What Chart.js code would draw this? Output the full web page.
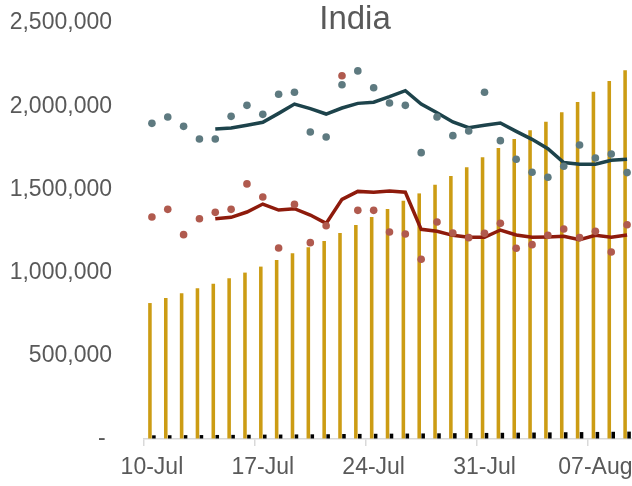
<!DOCTYPE html>
<html>
<head>
<meta charset="utf-8">
<script src="https://cdn.jsdelivr.net/npm/chart.js@4"></script>
<style>
body { margin: 0; overflow: hidden; background: #fff; }
#wrap { width: 640px; height: 486px; }
</style>
</head>
<body>
<div id="wrap"><canvas id="indiaChart" width="640" height="486"></canvas></div>
<script>
const titleText = 'India';

const days = ['10-Jul','11-Jul','12-Jul','13-Jul','14-Jul','15-Jul','16-Jul','17-Jul','18-Jul','19-Jul',
    '20-Jul','21-Jul','22-Jul','23-Jul','24-Jul','25-Jul','26-Jul','27-Jul','28-Jul','29-Jul',
    '30-Jul','31-Jul','01-Aug','02-Aug','03-Aug','04-Aug','05-Aug','06-Aug','07-Aug','08-Aug','09-Aug'];

// cumulative cases (yellow bars)
const totalCases = [817000, 847000, 876000, 906000, 933000, 966000, 1000000, 1036000, 1076000, 1116000,
    1152000, 1190000, 1238000, 1286000, 1334000, 1382000, 1432000, 1476000, 1528000, 1580000,
    1633000, 1693000, 1749000, 1803000, 1855000, 1907000, 1963000, 2025000, 2087000, 2152000, 2216000];

// cumulative deaths (black bars)
const totalDeaths = [22100, 22700, 23200, 23700, 24300, 24900, 25600, 26300, 26800, 27500,
    28100, 28700, 29900, 30600, 31400, 32100, 32800, 33400, 34200, 35000,
    35700, 36500, 37400, 38100, 38900, 39800, 40700, 41600, 42500, 43400, 44400];

// grey dots and their average line
const greyDots = [1897000, 1935000, 1879000, 1803000, 1803000, 1939000, 2005000, 1951000, 2072000, 2084000,
    1845000, 1815000, 2129000, 2212000, 2111000, 2019000, 2005000, 1721000, 1935000, 1823000,
    1851000, 2084000, 1793000, 1681000, 1603000, 1573000, 1639000, 1767000, 1689000, 1713000, 1601000];
const greyAvg = [null, null, null, null, 1863000, 1869000, 1885000, 1903000, 1957000, 2013000,
    1985000, 1953000, 1989000, 2017000, 2024000, 2057000, 2093000, 2013000, 1961000, 1905000,
    1871000, 1885000, 1899000, 1849000, 1801000, 1745000, 1661000, 1651000, 1651000, 1675000, 1681000];

// red dots and their average line
const redDots = [1334000, 1380000, 1228000, 1324000, 1362000, 1380000, 1533000, 1454000, 1148000, 1410000,
    1180000, 1282000, 2183000, 1374000, 1374000, 1244000, 1232000, 1080000, 1304000, 1238000,
    1210000, 1236000, 1296000, 1146000, 1168000, 1224000, 1262000, 1210000, 1248000, 1124000, 1288000];
const redAvg = [null, null, null, null, 1324000, 1332000, 1364000, 1412000, 1376000, 1384000,
    1346000, 1296000, 1440000, 1488000, 1483000, 1490000, 1483000, 1260000, 1248000, 1224000,
    1212000, 1212000, 1256000, 1226000, 1212000, 1214000, 1218000, 1198000, 1224000, 1212000, 1226000];

Chart.defaults.font.family = '"Liberation Sans", Arial, sans-serif';
Chart.defaults.color = '#595959';

const titlePlugin = {
    id: 'indiaTitle',
    afterDraw(chart) {
        const c = chart.ctx;
        c.save();
        c.font = '33px "Liberation Sans", Arial, sans-serif';
        c.fillStyle = '#595959';
        c.textAlign = 'center';
        c.textBaseline = 'alphabetic';
        c.fillText(titleText, 355, 29);
        c.restore();
    }
};

const ctx = document.getElementById('indiaChart').getContext('2d');
const chart = new Chart(ctx, {
    type: 'bar',
    data: {
        labels: days,
        datasets: [
            {
                type: 'line',
                label: 'Grey dots',
                data: greyDots,
                showLine: false,
                pointRadius: 3.8,
                pointBackgroundColor: '#5E7A80',
                pointBorderWidth: 0,
                order: 0
            },
            {
                type: 'line',
                label: 'Red dots',
                data: redDots,
                showLine: false,
                pointRadius: 3.8,
                pointBackgroundColor: '#B05A4E',
                pointBorderWidth: 0,
                order: 0
            },
            {
                type: 'line',
                label: 'Grey average',
                data: greyAvg,
                borderColor: '#1D434B',
                borderWidth: 3.5,
                pointRadius: 0,
                order: 1
            },
            {
                type: 'line',
                label: 'Red average',
                data: redAvg,
                borderColor: '#8E1B0C',
                borderWidth: 3.5,
                pointRadius: 0,
                order: 1
            },
            {
                label: 'Cases',
                data: totalCases,
                backgroundColor: '#CC9C14',
                categoryPercentage: 0.5,
                barPercentage: 0.9,
                order: 2
            },
            {
                label: 'Deaths',
                data: totalDeaths,
                backgroundColor: '#000000',
                categoryPercentage: 0.5,
                barPercentage: 0.9,
                order: 2
            }
        ]
    },
    options: {
        responsive: false,
        animation: false,
        layout: { padding: { top: 23, right: 5, left: 0, bottom: 0 } },
        plugins: {
            legend: { display: false },
            tooltip: { enabled: false }
        },
        scales: {
            x: {
                offset: true,
                grid: {
                    offset: true,
                    drawOnChartArea: false,
                    tickLength: 7,
                    lineWidth: 1.5,
                    color: c => (c.index % 7 === 0 ? '#D9D9D9' : 'rgba(0,0,0,0)')
                },
                border: { display: true, color: '#D9D9D9', width: 1.5 },
                ticks: {
                    autoSkip: false,
                    maxRotation: 0,
                    padding: 8,
                    font: { size: 23 },
                    callback: function (value, index) {
                        return index % 7 === 0 ? this.getLabelForValue(value) : '';
                    }
                },
                afterFit: scale => { scale.height = 47; }
            },
            y: {
                min: 0,
                max: 2500000,
                grid: {
                    drawOnChartArea: false,
                    tickLength: 30,
                    color: 'rgba(0,0,0,0)'
                },
                border: { display: false },
                ticks: {
                    stepSize: 500000,
                    padding: 2,
                    font: { size: 23 },
                    callback: v => (v === 0 ? '- ' : v.toLocaleString('en-US'))
                },
                afterFit: scale => { scale.width = 144; }
            }
        }
    },
    plugins: [titlePlugin]
});
</script>
</body>
</html>
